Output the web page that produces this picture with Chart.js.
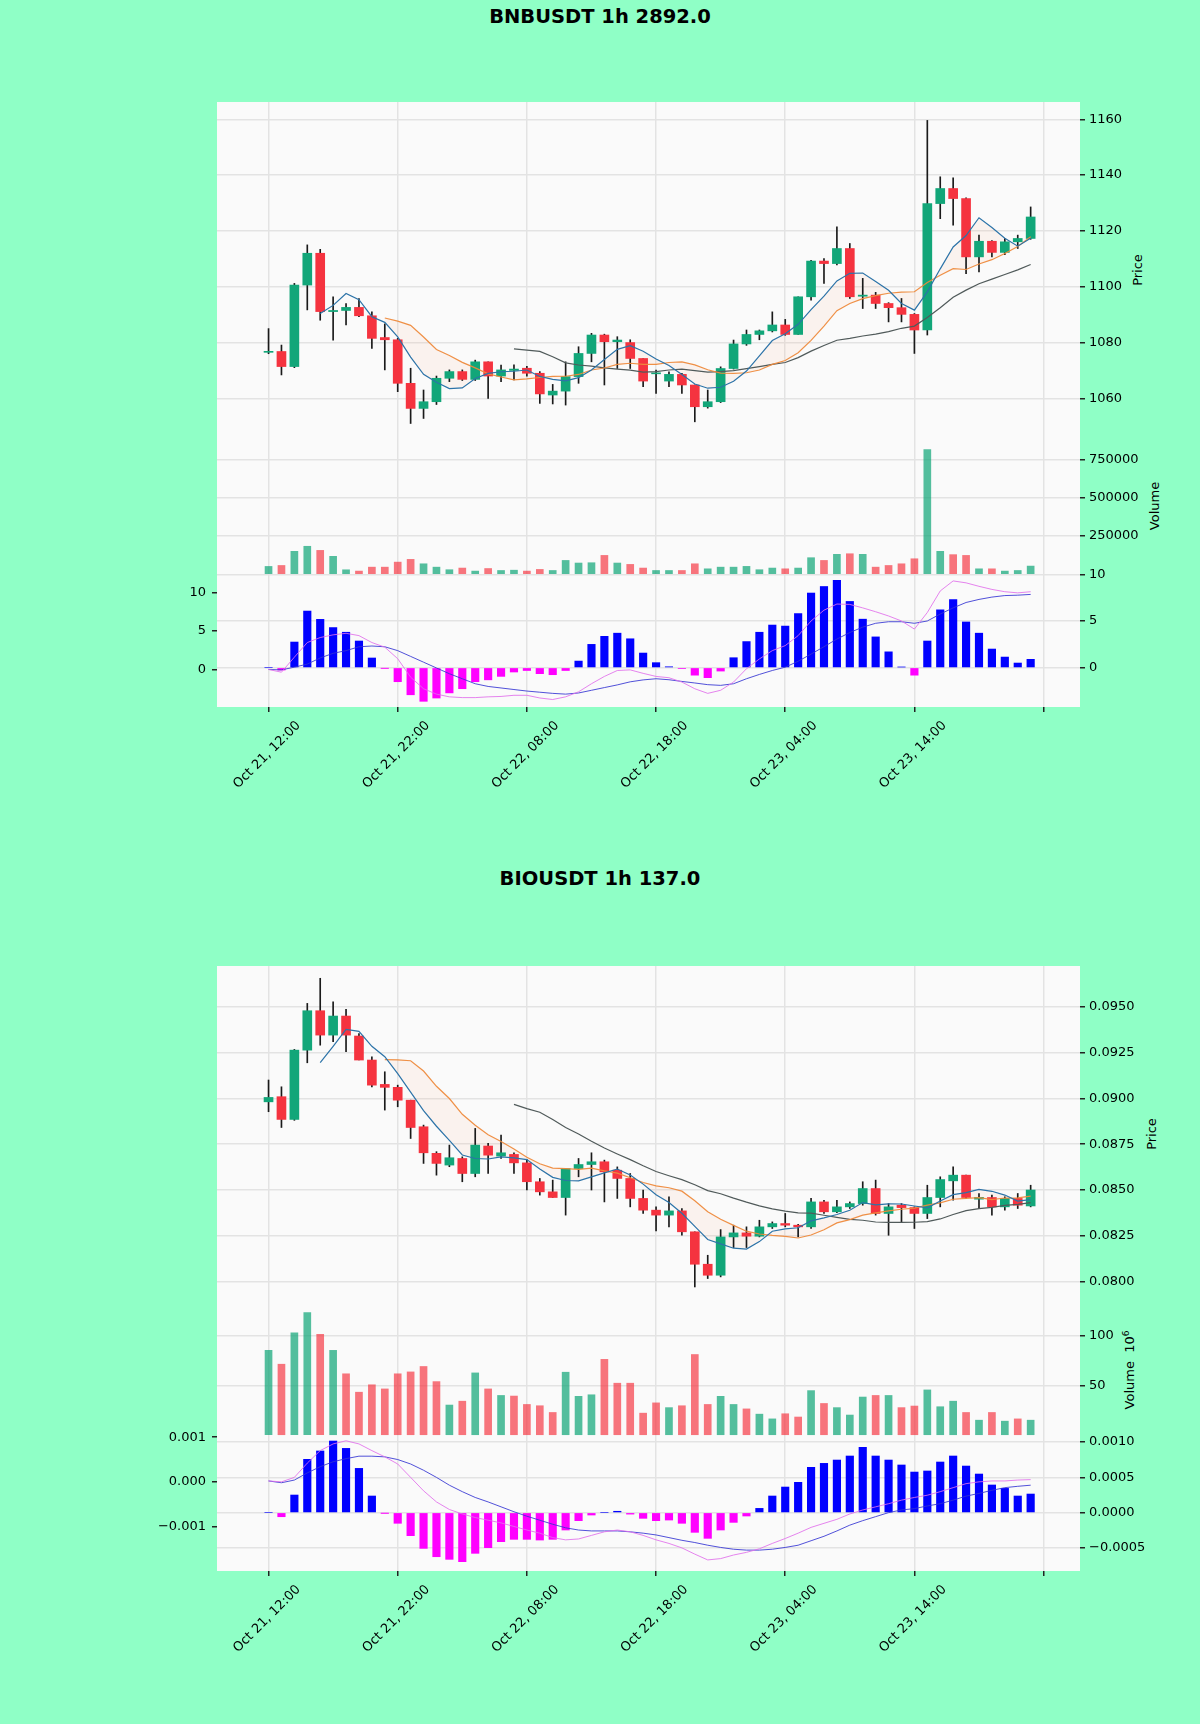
<!DOCTYPE html>
<html>
<head>
<meta charset="utf-8">
<script src="https://cdn.jsdelivr.net/npm/chart.js@4.4.1/dist/chart.umd.min.js"></script>
<style>
  body { margin: 0; width: 1200px; height: 1724px; background: #8fffc6; position: relative; overflow: hidden; font-family: 'DejaVu Sans', sans-serif; }
  canvas { position: absolute; left: 0; }
  .plotbg { position: absolute; left: 217px; width: 863px; background: #fafafa; }
  .title { position: absolute; left: 0; width: 1200px; text-align: center; font-weight: bold; font-size: 19.5px; line-height: 1; }
  .ylab { position: absolute; font-size: 13px; white-space: nowrap; transform: translate(-50%, -50%) rotate(-90deg); }
</style>
</head>
<body>
<div class="plotbg" style="top:102px;height:605px"></div>
<div class="plotbg" style="top:966px;height:605px"></div>
<div class="title" style="top:7px">BNBUSDT 1h 2892.0</div>
<div class="title" style="top:869px">BIOUSDT 1h 137.0</div>
<div class="ylab" style="left:1137px;top:270px">Price</div>
<div class="ylab" style="left:1154px;top:506px">Volume</div>
<div class="ylab" style="left:1151px;top:1134px">Price</div>
<div class="ylab" style="left:1129px;top:1370px">Volume&nbsp;&nbsp;10<sup style="font-size:9px">6</sup></div>
<script>
'use strict';

// shared x axis: one candle per hour, Oct 21 12:00 .. Oct 23 23:00
const xTickPos = [0, 10, 20, 30, 40, 50, 60];
const xTickLabels = ['Oct 21, 12:00', 'Oct 21, 22:00', 'Oct 22, 08:00', 'Oct 22, 18:00', 'Oct 23, 04:00', 'Oct 23, 14:00', ''];

// BNBUSDT
const bnbOpen = [1076.5, 1076.8, 1071.4, 1100.6, 1112.0, 1091.1, 1091.5, 1092.6, 1089.6, 1081.8,
  1081.0, 1065.4, 1056.4, 1058.8, 1067.2, 1069.6, 1066.8, 1073.1, 1068.0, 1070.0,
  1070.8, 1069.0, 1061.2, 1062.6, 1067.8, 1076.1, 1082.7, 1080.3, 1080.0, 1074.3,
  1068.8, 1066.2, 1068.6, 1064.8, 1057.0, 1058.8, 1070.7, 1079.5, 1082.9, 1084.2,
  1086.3, 1082.9, 1096.4, 1109.2, 1108.3, 1113.7, 1096.6, 1097.0, 1094.0, 1092.5,
  1090.1, 1084.5, 1129.8, 1135.2, 1131.6, 1110.7, 1116.3, 1112.3, 1116.1, 1117.3];
const bnbHigh = [1085.0, 1079.1, 1101.2, 1115.0, 1113.4, 1096.4, 1094.0, 1095.8, 1091.0, 1086.7,
  1081.5, 1070.8, 1063.0, 1068.0, 1070.2, 1070.2, 1073.7, 1073.1, 1071.9, 1072.0,
  1071.5, 1069.6, 1065.0, 1073.1, 1078.5, 1083.3, 1083.0, 1082.1, 1081.0, 1074.3,
  1070.1, 1069.5, 1069.0, 1064.8, 1063.0, 1071.3, 1080.9, 1084.5, 1084.5, 1091.0,
  1088.3, 1096.4, 1109.5, 1110.1, 1121.5, 1115.5, 1103.0, 1098.0, 1094.3, 1095.8,
  1090.4, 1159.6, 1139.4, 1139.0, 1131.9, 1118.5, 1116.5, 1117.3, 1118.5, 1128.6];
const bnbLow = [1076.0, 1068.4, 1071.0, 1091.7, 1088.0, 1080.9, 1086.3, 1089.3, 1077.9, 1070.2,
  1062.4, 1051.0, 1052.8, 1057.8, 1066.0, 1066.4, 1066.4, 1060.0, 1066.0, 1066.6,
  1068.0, 1058.2, 1058.0, 1057.6, 1065.4, 1073.1, 1064.8, 1070.7, 1070.7, 1064.2,
  1061.8, 1064.2, 1061.8, 1051.6, 1056.5, 1058.5, 1070.5, 1079.0, 1081.0, 1083.8,
  1082.6, 1082.9, 1095.2, 1101.2, 1107.8, 1095.8, 1092.2, 1092.2, 1087.4, 1087.4,
  1076.1, 1082.7, 1124.4, 1122.1, 1104.7, 1105.3, 1110.7, 1111.5, 1113.7, 1117.0];
const bnbClose = [1076.8, 1071.4, 1100.6, 1112.0, 1091.1, 1091.5, 1092.6, 1089.6, 1081.5, 1081.0,
  1065.4, 1056.4, 1058.8, 1067.2, 1069.6, 1066.8, 1073.1, 1068.0, 1070.2, 1070.5,
  1069.0, 1061.6, 1062.6, 1067.8, 1076.1, 1082.7, 1080.3, 1080.9, 1074.3, 1066.2,
  1069.0, 1068.6, 1064.8, 1057.0, 1058.8, 1070.7, 1079.5, 1082.9, 1084.2, 1086.3,
  1082.9, 1096.4, 1109.2, 1108.3, 1113.7, 1096.4, 1097.0, 1094.0, 1092.5, 1090.1,
  1084.5, 1129.8, 1135.2, 1131.6, 1110.7, 1116.3, 1112.3, 1116.1, 1117.3, 1125.0];
const bnbVolume = [49600, 56000, 149000, 182000, 155000, 116000, 27600, 19000, 45000, 45000,
  78000, 96000, 67000, 45000, 28000, 39000, 19000, 36000, 23000, 25000,
  19000, 30000, 23000, 89000, 72000, 74000, 122000, 72000, 63000, 39000,
  23000, 23000, 23000, 67000, 34000, 45000, 45000, 50000, 28000, 39000,
  34000, 39000, 107000, 89000, 129000, 133000, 129000, 45000, 56000, 67000,
  100000, 817000, 149000, 127000, 122000, 34000, 34000, 19000, 23000, 52000];
const bnbHist = [0, -0.25, 2.75, 6.07, 5.18, 4.3, 3.8, 2.86, 1.04, -0.05,
  -1.5, -2.9, -3.6, -3.25, -2.7, -2.25, -1.5, -1.3, -0.93, -0.46,
  -0.3, -0.64, -0.75, -0.3, 0.71, 2.5, 3.36, 3.7, 3.1, 1.57,
  0.54, 0.1, -0.07, -0.8, -1.07, -0.36, 1.07, 2.8, 3.8, 4.57,
  4.46, 5.8, 8.0, 8.7, 9.36, 7.1, 5.2, 3.3, 1.7, 0.07,
  -0.8, 2.86, 6.2, 7.3, 4.9, 3.7, 2.0, 1.14, 0.5, 0.9];
const bnbMacd = [0, -0.35, 1.6, 3.5, 4.15, 4.5, 4.7, 4.4, 3.5, 2.9,
  1.4, -1.0, -2.5, -3.2, -3.55, -3.65, -3.65, -3.55, -3.5, -3.35,
  -3.35, -3.7, -3.9, -3.55, -2.9, -1.85, -0.9, -0.13, -0.05, -0.5,
  -0.9, -1.07, -1.63, -2.5, -3.1, -2.7, -1.63, 0.1, 1.37, 2.45,
  3.1, 4.4, 6.3, 7.7, 8.5, 8.45, 8.0, 7.5, 6.95, 6.3,
  5.25, 7.4, 10.2, 11.5, 11.25, 10.8, 10.4, 10.1, 9.95, 10.1];
const bnbSignal = [0, -0.05, 0.3, 0.7, 1.5, 2.1, 2.45, 2.95, 3.05, 2.95,
  2.45, 1.7, 0.95, 0.2, -0.55, -1.2, -1.85, -2.2, -2.4, -2.6,
  -2.8, -2.95, -3.1, -3.2, -3.05, -2.7, -2.35, -2.0, -1.6, -1.35,
  -1.2, -1.33, -1.55, -1.75, -1.97, -2.06, -1.85, -1.2, -0.64, -0.13,
  0.3, 1.07, 2.0, 2.96, 3.95, 4.8, 5.5, 6.0, 6.2, 6.2,
  6.0, 6.3, 7.2, 8.0, 8.7, 9.1, 9.4, 9.6, 9.65, 9.75];
const bnbPriceTicks = [1060, 1080, 1100, 1120, 1140, 1160];
const bnbVolumeTicks = [250000, 500000, 750000];
const bnbHistTicks = [0, 5, 10];
const bnbLineTicks = [0, 5, 10];

// BIOUSDT (volume in millions)
const bioOpen = [0.08981, 0.09009, 0.08885, 0.09263, 0.09478, 0.09345, 0.09449, 0.09340, 0.09209, 0.09076,
  0.09060, 0.08990, 0.08845, 0.08700, 0.08636, 0.08672, 0.08590, 0.08740, 0.08685, 0.08694,
  0.08648, 0.08545, 0.08490, 0.08459, 0.08617, 0.08639, 0.08654, 0.08608, 0.08563, 0.08454,
  0.08390, 0.08363, 0.08386, 0.08272, 0.08095, 0.08035, 0.08244, 0.08266, 0.08248, 0.08299,
  0.08317, 0.08308, 0.08299, 0.08435, 0.08381, 0.08408, 0.08426, 0.08508, 0.08372, 0.08417,
  0.08404, 0.08372, 0.08459, 0.08550, 0.08581, 0.08450, 0.08459, 0.08408, 0.08454, 0.08413];
const bioHigh = [0.09100, 0.09063, 0.09267, 0.09518, 0.09655, 0.09527, 0.09485, 0.09354, 0.09227, 0.09145,
  0.09072, 0.08990, 0.08854, 0.08709, 0.08745, 0.08681, 0.08836, 0.08754, 0.08799, 0.08703,
  0.08666, 0.08563, 0.08554, 0.08617, 0.08672, 0.08703, 0.08663, 0.08626, 0.08590, 0.08500,
  0.08408, 0.08463, 0.08399, 0.08272, 0.08144, 0.08284, 0.08308, 0.08299, 0.08335, 0.08326,
  0.08372, 0.08313, 0.08454, 0.08444, 0.08444, 0.08435, 0.08545, 0.08554, 0.08426, 0.08426,
  0.08408, 0.08526, 0.08572, 0.08626, 0.08581, 0.08481, 0.08472, 0.08463, 0.08481, 0.08526];
const bioLow = [0.08927, 0.08841, 0.08880, 0.09194, 0.09290, 0.09309, 0.09254, 0.09209, 0.09063, 0.08936,
  0.08954, 0.08781, 0.08645, 0.08581, 0.08627, 0.08545, 0.08572, 0.08590, 0.08672, 0.08590,
  0.08500, 0.08472, 0.08459, 0.08363, 0.08572, 0.08500, 0.08435, 0.08454, 0.08408, 0.08372,
  0.08277, 0.08299, 0.08253, 0.07971, 0.08017, 0.08026, 0.08186, 0.08186, 0.08244, 0.08290,
  0.08299, 0.08244, 0.08290, 0.08372, 0.08376, 0.08399, 0.08417, 0.08363, 0.08253, 0.08326,
  0.08290, 0.08344, 0.08408, 0.08444, 0.08454, 0.08399, 0.08363, 0.08390, 0.08399, 0.08408];
const bioClose = [0.09005, 0.08885, 0.09263, 0.09478, 0.09345, 0.09449, 0.09345, 0.09209, 0.09072, 0.09060,
  0.08990, 0.08841, 0.08703, 0.08645, 0.08676, 0.08590, 0.08745, 0.08690, 0.08703, 0.08648,
  0.08545, 0.08490, 0.08459, 0.08617, 0.08639, 0.08654, 0.08599, 0.08563, 0.08454, 0.08390,
  0.08363, 0.08386, 0.08272, 0.08095, 0.08035, 0.08244, 0.08266, 0.08248, 0.08299, 0.08317,
  0.08308, 0.08299, 0.08435, 0.08381, 0.08408, 0.08426, 0.08508, 0.08372, 0.08408, 0.08404,
  0.08372, 0.08459, 0.08557, 0.08581, 0.08459, 0.08460, 0.08408, 0.08454, 0.08417, 0.08500];
const bioVolume = [85.3, 71.3, 103, 123.5, 101.6, 85.3, 61.6, 43, 50.5, 46.3,
  61.6, 63.5, 69, 53.7, 30, 33.9, 62.5, 46.3, 39.7, 39.1,
  30.6, 29.3, 22.5, 63.2, 38.8, 40.4, 76.2, 52.1, 52.1, 21.8,
  32.2, 27.4, 29.3, 81.1, 30.6, 38.8, 30.6, 26.1, 20.8, 16,
  21.2, 17.9, 44.6, 31.6, 27.4, 19.9, 38.1, 39.7, 39.7, 27.4,
  29, 45.3, 28.3, 33.9, 22.5, 14.7, 22.5, 13.7, 16, 14.7];
const bioHist = [0, -0.000057, 0.00025, 0.000755, 0.000873, 0.001014, 0.00091, 0.000627, 0.000236, -0.000005,
  -0.00015, -0.000325, -0.000505, -0.000623, -0.00066, -0.000693, -0.000575, -0.000495, -0.00041, -0.000377,
  -0.000377, -0.000387, -0.000377, -0.000245, -0.000113, -0.000033, 0, 0.00002, -0.00002, -0.00008,
  -0.000113, -0.000104, -0.00015, -0.000278, -0.000363, -0.000245, -0.000137, -0.000047, 0.000061, 0.000236,
  0.000363, 0.00043, 0.000642, 0.000698, 0.000745, 0.000802, 0.000925, 0.000802, 0.000745, 0.000675,
  0.000575, 0.00059, 0.000717, 0.000802, 0.00066, 0.000547, 0.000392, 0.000344, 0.000236, 0.000264];
const bioMacd = [0.00002, 0, 0.0001, 0.00042, 0.0007, 0.00085, 0.00092, 0.00085, 0.0007, 0.00056,
  0.0004, 0.0001, -0.0002, -0.00045, -0.00062, -0.00072, -0.0008, -0.00086, -0.00092, -0.001,
  -0.00108, -0.00115, -0.00125, -0.0013, -0.00128, -0.0012, -0.00112, -0.00108, -0.00112, -0.0012,
  -0.0013, -0.00138, -0.00148, -0.00162, -0.00175, -0.00172, -0.00164, -0.00158, -0.0015, -0.00138,
  -0.00127, -0.00115, -0.00102, -0.00093, -0.00084, -0.00072, -0.00063, -0.00056, -0.00049, -0.00041,
  -0.00035, -0.0003, -0.00022, -0.00013, -0.00004, 0, 0.00002, 0.00002, 0.00004, 0.00005];
const bioSignal = [0.00002, -0.00002, 0.00004, 0.0002, 0.00034, 0.00045, 0.00052, 0.000575, 0.000575, 0.00056,
  0.0005, 0.0004, 0.00026, 0.0001, -0.000075, -0.00022, -0.00035, -0.00045, -0.00056, -0.00067,
  -0.00077, -0.00086, -0.00095, -0.00103, -0.00108, -0.0011, -0.0011, -0.0011, -0.00112, -0.00115,
  -0.00119, -0.00125, -0.00131, -0.00136, -0.00142, -0.00147, -0.00151, -0.00153, -0.00153, -0.00151,
  -0.00147, -0.00142, -0.00132, -0.00122, -0.0011, -0.00097, -0.00087, -0.00078, -0.00069, -0.00063,
  -0.0006, -0.00054, -0.00049, -0.00041, -0.00032, -0.00026, -0.00019, -0.00013, -0.0001, -0.000075];
const bioPriceTicks = [0.08, 0.0825, 0.085, 0.0875, 0.09, 0.0925, 0.095];
const bioVolumeTicks = [50, 100];
const bioHistTicks = [-0.0005, 0, 0.0005, 0.001];
const bioLineTicks = [-0.001, 0, 0.001];

const UP = '#12a679';
const DOWN = '#f5333f';
const UP_VOL = 'rgba(18,166,121,0.72)';
const DOWN_VOL = 'rgba(245,51,63,0.68)';
const MA_FILL = 'rgba(255,170,120,0.09)';
const GRID = '#e3e3e3';
const TICK = '#222';
const X_MIN = -3.99;
const X_MAX = 62.82;
const LEFT_W = 217;
const RIGHT_W = 120;
const MARGIN = 20;
const XAXIS_H = 110;

Chart.defaults.font.family = "'DejaVu Sans', sans-serif";
Chart.defaults.font.size = 13;
Chart.defaults.color = '#000';

function sma(values, n) {
  return values.map((v, i) => {
    if (i < n - 1) return null;
    let sum = 0;
    for (let k = i - n + 1; k <= i; k++) sum += values[k];
    return sum / n;
  });
}

function pts(values) {
  return values.map((v, i) => ({x: i, y: v}));
}

function fixedTicks(values) {
  return scale => { scale.ticks = values.map(v => ({value: v})); };
}

function minusSign(s) {
  return s.replace('-', '\u2212');
}

function xScale(showLabels) {
  return {
    type: 'linear', min: X_MIN, max: X_MAX, offset: false,
    border: {display: false},
    grid: {color: GRID, lineWidth: 1.5, offset: false, drawTicks: showLabels, tickLength: 5, tickColor: TICK},
    afterBuildTicks: fixedTicks(xTickPos),
    ticks: {
      display: showLabels, autoSkip: false, maxRotation: 45, minRotation: 45,
      labelOffset: 30, padding: 6,
      callback: (v, i) => xTickLabels[i]
    },
    afterFit: s => { s.height = showLabels ? XAXIS_H : 0; s.paddingLeft = 0; s.paddingRight = 0; }
  };
}

function yScale(pos, min, max, tickValues, fmt, gridOnArea) {
  return {
    type: 'linear', position: pos, min: min, max: max,
    border: {display: false},
    grid: {drawOnChartArea: gridOnArea, color: GRID, lineWidth: 1.5, drawTicks: true, tickLength: 5, tickColor: TICK},
    afterBuildTicks: fixedTicks(tickValues),
    ticks: {padding: pos === 'left' ? 6 : 4, callback: v => fmt(v)},
    afterFit: s => { s.width = pos === 'left' ? LEFT_W : RIGHT_W; s.paddingTop = 0; s.paddingBottom = 0; }
  };
}

function makePanel(top, height, withAxis, leftPad, datasets, scales) {
  const canvas = document.createElement('canvas');
  const h = MARGIN + height + (withAxis ? XAXIS_H : MARGIN);
  canvas.width = 1200;
  canvas.height = h;
  canvas.style.top = (top - MARGIN) + 'px';
  canvas.style.width = '1200px';
  canvas.style.height = h + 'px';
  document.body.appendChild(canvas);
  return new Chart(canvas, {
    type: 'bar',
    data: {datasets: datasets},
    options: {
      responsive: false, animation: false, devicePixelRatio: 1,
      layout: {padding: {top: MARGIN, bottom: withAxis ? 0 : MARGIN, left: leftPad, right: 0}},
      plugins: {legend: {display: false}, tooltip: {enabled: false}, filler: {drawTime: 'beforeDatasetsDraw'}},
      scales: scales
    }
  });
}

function drawSymbol(s) {
  const up = s.open.map((o, i) => s.close[i] >= o);
  const ma5 = sma(s.close, 5);
  const ma10 = sma(s.close, 10);
  const ma20 = sma(s.close, 20);

  // price panel: wicks, bodies, moving averages
  makePanel(s.top, 336, false, LEFT_W, [
    {data: s.low.map((l, i) => ({x: i, y: [l, s.high[i]]})), backgroundColor: '#1a1a1a',
      barThickness: 1, grouped: false, order: 4, yAxisID: 'y'},
    {data: s.open.map((o, i) => ({x: i, y: [o, s.close[i]]})), backgroundColor: up.map(u => u ? UP : DOWN),
      barThickness: 9, minBarLength: 1, grouped: false, order: 3, yAxisID: 'y'},
    {type: 'line', data: pts(ma5), borderColor: '#2c73a8', borderWidth: 1.2, pointRadius: 0, order: 1, yAxisID: 'y',
      fill: {target: 3, above: MA_FILL, below: MA_FILL}},
    {type: 'line', data: pts(ma10), borderColor: 'rgba(238,138,60,0.95)', borderWidth: 1.2, pointRadius: 0, order: 1, yAxisID: 'y'},
    {type: 'line', data: pts(ma20), borderColor: '#505a5a', borderWidth: 1.2, pointRadius: 0, order: 1, yAxisID: 'y'}
  ], {
    x: xScale(false),
    y: yScale('right', s.priceMin, s.priceMax, s.priceTicks, s.priceFmt, true)
  });

  // volume panel
  makePanel(s.top + 336, s.volH, false, LEFT_W, [
    {data: pts(s.volume), backgroundColor: up.map(u => u ? UP_VOL : DOWN_VOL),
      barThickness: 7, grouped: false, yAxisID: 'y'}
  ], {
    x: xScale(false),
    y: yScale('right', s.volMin, s.volMax, s.volTicks, v => String(v), true)
  });

  // MACD panel: histogram on the right axis, lines on the left axis
  makePanel(s.top + 336 + s.volH, s.macdH, true, 0, [
    {type: 'line', data: pts(s.macd), borderColor: 'rgba(225,110,235,0.85)', borderWidth: 1, pointRadius: 0, order: 1, yAxisID: 'yL'},
    {type: 'line', data: pts(s.signal), borderColor: 'rgba(50,50,210,0.85)', borderWidth: 1, pointRadius: 0, order: 1, yAxisID: 'yL'},
    {data: pts(s.hist), backgroundColor: s.hist.map(v => v >= 0 ? '#0000ff' : '#ff00ff'),
      barThickness: 7.5, grouped: false, order: 2, yAxisID: 'yR'}
  ], {
    x: xScale(true),
    yR: yScale('right', s.histMin, s.histMax, s.histTicks, s.histFmt, true),
    yL: yScale('left', s.lineMin, s.lineMax, s.lineTicks, s.lineFmt, false)
  });
}

drawSymbol({
  top: 102, volH: 136, macdH: 133,
  open: bnbOpen, high: bnbHigh, low: bnbLow, close: bnbClose, volume: bnbVolume,
  hist: bnbHist, macd: bnbMacd, signal: bnbSignal,
  priceMin: 1045.8, priceMax: 1166.2, priceTicks: bnbPriceTicks, priceFmt: v => String(v),
  volMin: 0, volMax: 893000, volTicks: bnbVolumeTicks,
  histMin: -4.21, histMax: 10.04, histTicks: bnbHistTicks, histFmt: v => minusSign(String(v)),
  lineMin: -4.87, lineMax: 12.4, lineTicks: bnbLineTicks, lineFmt: v => minusSign(String(v))
});

drawSymbol({
  top: 966, volH: 135, macdH: 134,
  open: bioOpen, high: bioHigh, low: bioLow, close: bioClose, volume: bioVolume,
  hist: bioHist, macd: bioMacd, signal: bioSignal,
  priceMin: 0.07889, priceMax: 0.09722, priceTicks: bioPriceTicks, priceFmt: v => v.toFixed(4),
  volMin: -2.3, volMax: 134.2, volTicks: bioVolumeTicks,
  histMin: -0.000825, histMax: 0.001071, histTicks: bioHistTicks, histFmt: v => minusSign(v.toFixed(4)),
  lineMin: -0.001998, lineMax: 0.001005, lineTicks: bioLineTicks, lineFmt: v => minusSign(v.toFixed(3))
});
</script>
</body>
</html>
